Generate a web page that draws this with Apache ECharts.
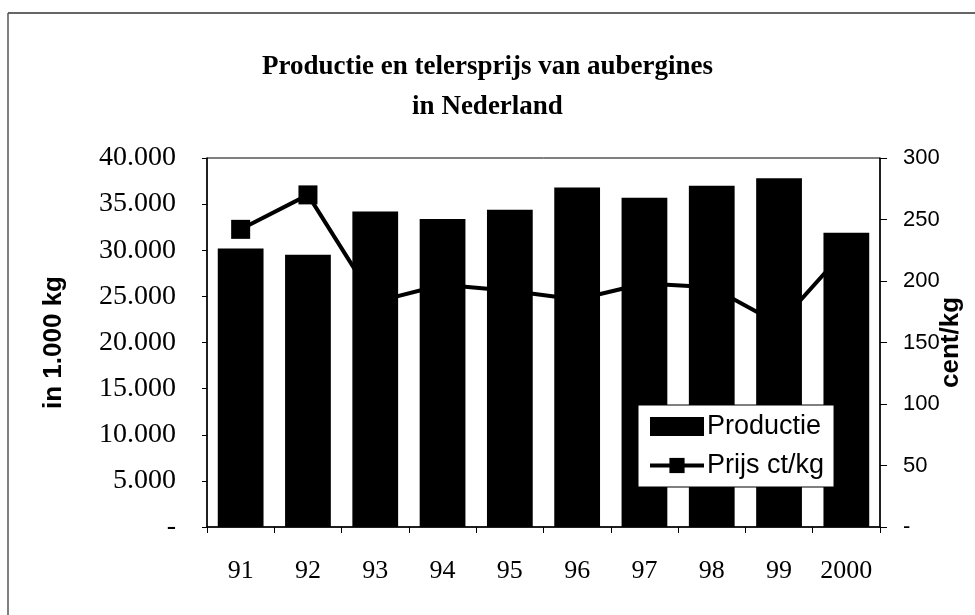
<!DOCTYPE html>
<html>
<head>
<meta charset="utf-8">
<script src="https://cdn.jsdelivr.net/npm/echarts@6/dist/echarts.min.js"></script>
<style>
  html, body { margin: 0; padding: 0; background: #fff; }
  #chart { width: 975px; height: 615px; }
</style>
</head>
<body>
<div id="chart"></div>
<script>
const jaren = ["91", "92", "93", "94", "95", "96", "97", "98", "99", "2000"];
const productie = [30200, 29500, 34200, 33400, 34400, 36800, 35700, 37000, 37800, 31900];
const prijs = [242, 270, 183, 197, 192, 185, 198, 195, 165, 226];

const serif = "'Liberation Serif', 'Times New Roman', serif";
const sans = "'Liberation Sans', Arial, sans-serif";

function dutch(value) {
  if (value === 0) return "-";
  return String(value).replace(/\B(?=(\d{3})+(?!\d))/g, ".");
}

const chart = echarts.init(document.getElementById("chart"));
chart.setOption({
  backgroundColor: "#fff",
  animation: false,
  title: {
    text: "Productie en telersprijs van aubergines\nin Nederland",
    left: "center",
    top: 47,
    padding: 0,
    textStyle: { fontFamily: serif, fontSize: 27, fontWeight: "bold", color: "#000", lineHeight: 40 }
  },
  graphic: [
    { type: "line", shape: { x1: 8, y1: 13, x2: 975, y2: 13 }, style: { stroke: "#333", lineWidth: 1.5 } },
    { type: "line", shape: { x1: 8, y1: 13, x2: 8, y2: 615 }, style: { stroke: "#555", lineWidth: 1.5 } }
  ],
  grid: {
    left: 207, right: 95, top: 158, bottom: 88,
    containLabel: false, outerBoundsMode: "none",
    show: true, borderColor: "#000", borderWidth: 1
  },
  legend: {
    orient: "vertical",
    left: 638,
    top: 405,
    padding: [8, 10, 8, 10],
    backgroundColor: "#fff",
    borderColor: "#000",
    borderWidth: 1,
    itemWidth: 54,
    itemHeight: 19,
    itemGap: 12,
    z: 10,
    textStyle: { fontFamily: sans, fontSize: 27, color: "#000", padding: [0, 0, 0, -2] },
    data: [
      { name: "Productie", icon: "rect" },
      { name: "Prijs ct/kg", lineStyle: { width: 4 } }
    ]
  },
  xAxis: {
    type: "category",
    data: jaren,
    axisLine: { lineStyle: { color: "#000", width: 1.5 } },
    axisTick: { show: true, interval: 0, length: 6, lineStyle: { color: "#000" } },
    axisLabel: { color: "#000", fontFamily: serif, fontSize: 26, margin: 31, interval: 0 }
  },
  yAxis: [
    {
      type: "value",
      min: 0,
      max: 40000,
      interval: 5000,
      name: "in 1.000 kg",
      nameLocation: "middle",
      nameGap: 140,
      nameMoveOverlap: false,
      nameTextStyle: { fontFamily: sans, fontSize: 26, fontWeight: "bold", color: "#000" },
      axisLine: { show: true, lineStyle: { color: "#000", width: 1.5 } },
      axisTick: { show: true, length: 5, lineStyle: { color: "#000" } },
      splitLine: { show: false },
      axisLabel: { color: "#000", fontFamily: serif, fontSize: 28, margin: 31, formatter: dutch }
    },
    {
      type: "value",
      min: 0,
      max: 300,
      interval: 50,
      position: "right",
      name: "cent/kg",
      nameLocation: "middle",
      nameGap: 58,
      nameRotate: 90,
      nameMoveOverlap: false,
      nameTextStyle: { fontFamily: sans, fontSize: 26, fontWeight: "bold", color: "#000" },
      axisLine: { show: true, lineStyle: { color: "#000", width: 1.5 } },
      axisTick: { show: true, length: 7, lineStyle: { color: "#000" } },
      splitLine: { show: false },
      axisLabel: { color: "#000", fontFamily: sans, fontSize: 22, margin: 23, formatter: (v) => (v === 0 ? "-" : String(v)) }
    }
  ],
  series: [
    {
      name: "Productie",
      type: "bar",
      yAxisIndex: 0,
      data: productie,
      barCategoryGap: "32%",
      itemStyle: { color: "#000" }
    },
    {
      name: "Prijs ct/kg",
      type: "line",
      yAxisIndex: 1,
      data: prijs,
      symbol: "rect",
      symbolSize: 19,
      lineStyle: { color: "#000", width: 4 },
      itemStyle: { color: "#000" }
    }
  ]
});
</script>
</body>
</html>
